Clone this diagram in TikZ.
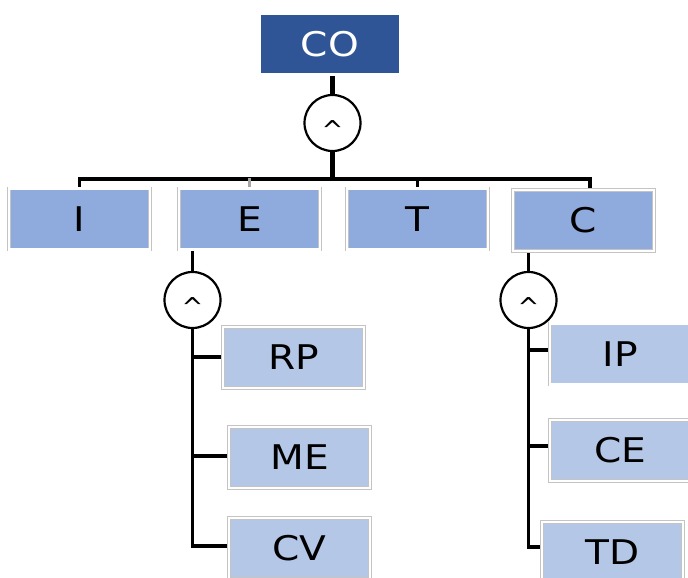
\documentclass[tikz,border=0pt]{standalone}
\usepackage{fontspec}
\setmainfont{DejaVu Sans}
\newfontfamily\lblfont[FakeStretch=1.15]{DejaVu Sans}
\pgfdeclarelayer{bg}
\pgfsetlayers{bg,main}
\definecolor{topblue}{HTML}{2F5597}
\definecolor{midblue}{HTML}{8FAADC}
\definecolor{lowblue}{HTML}{B4C7E7}
\definecolor{rim}{HTML}{C4C4C4}
\tikzset{
  box/.style={rectangle, draw=rim, double=white, double distance=2.2pt, line width=0.8pt,
    minimum width=141pt, minimum height=61pt, inner sep=0pt, outer sep=0pt,
    font=\lblfont\fontsize{34}{40}\selectfont, text=black},
  topbox/.style={box, fill=topblue, text=white},
  midbox/.style={box, fill=midblue},
  lowbox/.style={box, fill=lowblue},
  gate/.style={circle, draw=black, line width=2.2pt, fill=white, minimum size=56pt, inner sep=0pt,
    font=\fontsize{26}{30}\selectfont},
  conn/.style={draw=black, line width=3.3pt},
  mainconn/.style={draw=black, line width=5pt}
}
\newcommand{\gatetext}{\smash{\raisebox{-16pt}{\textasciicircum}}}
\begin{document}
\begin{tikzpicture}[x=1pt,y=-1pt]
\useasboundingbox (0,0) rectangle (688,578);
\clip (0,0) rectangle (688,578);
% nodes
\node[topbox] (CO) at (330,44) {CO};
\node[midbox] (I) at (79.5,219) {I};
\node[midbox] (E) at (249.5,219) {E};
\node[midbox] (T) at (417.5,219) {T};
\node[midbox] (C) at (583.5,220.5) {C};
\node[lowbox] (RP) at (293.5,357.5) {RP};
\node[lowbox] (ME) at (299.5,457.5) {ME};
\node[lowbox] (CV) at (299.5,548.5) {CV};
\node[lowbox] (IP) at (620.5,354) {IP};
\node[lowbox] (CE) at (620.5,450.5) {CE};
\node[lowbox] (TD) at (612.5,552.5) {TD};
\node[gate] (g1) at (332.5,123) {\gatetext};
\node[gate] (g2) at (192.5,300) {\gatetext};
\node[gate] (g3) at (528.5,300) {\gatetext};
\coordinate (bar) at (332.5,179);
% connectors on background
\begin{pgfonlayer}{bg}
\draw[mainconn] (CO.south -| g1) -- (g1.north);
\draw[mainconn] (g1.south) -- (bar);
\draw[conn, line cap=rect] (I.north) |- (bar);
\draw[conn, line cap=rect] (C.north -| 590,0) |- (bar);
\draw[conn] (T.north) -- (T.north |- bar);
\draw[draw=gray!70, line width=3pt] (E.north) -- ([yshift=1.5pt]E.north |- bar);
\draw[conn] (E.south -| g2) -- (g2.north);
\draw[conn] (g2.south) |- ([yshift=0.5pt]RP.west);
\draw[conn] (g2.south) |- ([yshift=1.5pt]ME.west);
\draw[conn] (g2.south) |- ([yshift=2.5pt]CV.west);
\draw[conn] (C.south -| g3) -- (g3.north);
\draw[conn] (g3.south) |- ([yshift=4pt]IP.west);
\draw[conn] (g3.south) |- ([yshift=4.5pt]CE.west);
\draw[conn] (g3.south) |- ([yshift=5.5pt]TD.west);
\end{pgfonlayer}
\end{tikzpicture}
\end{document}
